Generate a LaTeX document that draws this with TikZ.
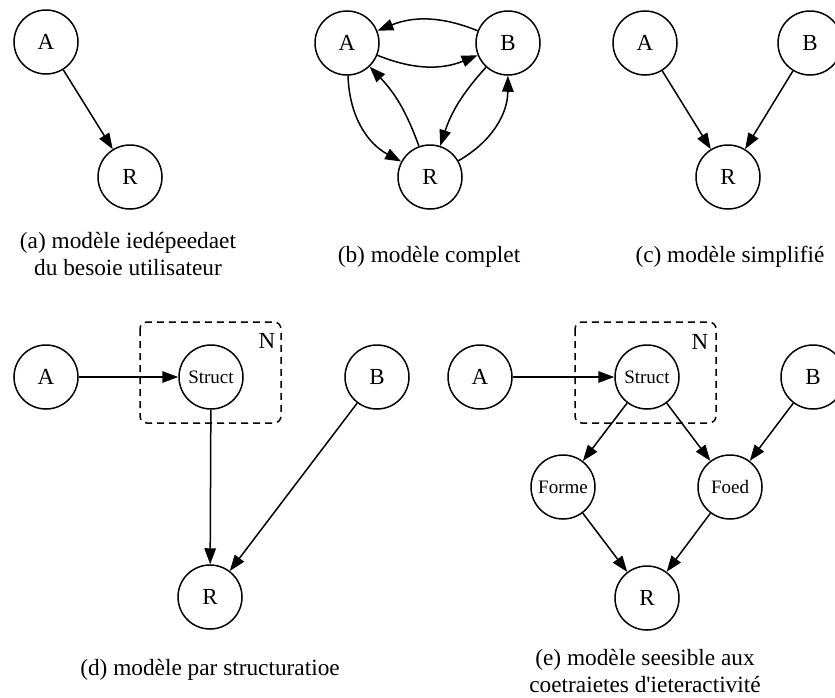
\documentclass[tikz,border=0pt]{standalone}
\usepackage{fontspec}
\setmainfont{Liberation Serif}
\usetikzlibrary{arrows.meta}
\tikzset{
  vnode/.style={circle,draw,line width=1.5pt,minimum size=64pt,inner sep=0pt,font=\fontsize{23}{26}\selectfont},
  wnode/.style={vnode,font=\fontsize{19}{22}\selectfont},
  arr/.style={line width=1.5pt,-{Triangle[length=16pt,width=11.5pt]}},
  captext/.style={align=center,font=\fontsize{23.3}{26.5}\selectfont},
  clus/.style={draw,dash pattern=on 7pt off 5pt,line width=1.5pt,rounded corners=7pt},
  lbl/.style={font=\fontsize{23}{26}\selectfont},
}
\begin{document}
\begin{tikzpicture}[x=1pt,y=-1pt]
\useasboundingbox (0,0) rectangle (835,697);
% (a)
\node[vnode] (aA) at (46,42) {A};
\node[vnode] (aR) at (130,177) {R};
\draw[arr] (aA) -- (aR);
\node[captext] (capa) at (128,254) {(a) modèle iedépeedaet\\du besoie utilisateur};
% (b)
\node[vnode] (bA) at (347,43) {A};
\node[vnode] (bB) at (508,43) {B};
\node[vnode] (bR) at (430,177) {R};
\draw[arr] (bA) to[bend right=22] (bB);
\draw[arr] (bB) to[bend right=22] (bA);
\draw[arr] (bA) to[bend right=30] (bR);
\draw[arr] (bR) to[bend right=12] (bA);
\draw[arr] (bB) to[bend right=12] (bR);
\draw[arr] (bR) to[bend right=30] (bB);
\node[captext] (capb) at (429,257) {(b) modèle complet};
% (c)
\node[vnode] (cA) at (645,43) {A};
\node[vnode] (cB) at (810,43) {B};
\node[vnode] (cR) at (728,177) {R};
\draw[arr] (cA) -- (cR);
\draw[arr] (cB) -- (cR);
\node[captext] (capc) at (730,257) {(c) modèle simplifié};
% (d)
\node[vnode] (dA) at (46,377) {A};
\node[wnode] (dS) at (211,377) {Struct};
\node[vnode] (dB) at (377,377) {B};
\node[vnode] (dR) at (210,597) {R};
\draw[clus] (140,322) rectangle (281,423);
\node[lbl] (dN) at (267,341) {N};
\draw[arr] (dA) -- (dS);
\draw[arr] (dS) -- (dR);
\draw[arr] (dB) -- (dR);
\node[captext] (capd) at (210,670) {(d) modèle par structuratioe};
% (e)
\node[vnode] (eA) at (480,377) {A};
\node[wnode] (eS) at (647,377) {Struct};
\node[vnode] (eB) at (813,377) {B};
\node[wnode] (eF) at (563,487) {Forme};
\node[wnode] (eD) at (730,487) {Foed};
\node[vnode] (eR) at (647,598) {R};
\draw[clus] (575,322) rectangle (716,423);
\node[lbl] (eN) at (700,342) {N};
\draw[arr] (eA) -- (eS);
\draw[arr] (eS) -- (eF);
\draw[arr] (eS) -- (eD);
\draw[arr] (eB) -- (eD);
\draw[arr] (eF) -- (eR);
\draw[arr] (eD) -- (eR);
\node[captext] (cape) at (645,671) {(e) modèle seesible aux\\coetraietes d\textquotesingle ieteractivité};
\end{tikzpicture}
\end{document}
